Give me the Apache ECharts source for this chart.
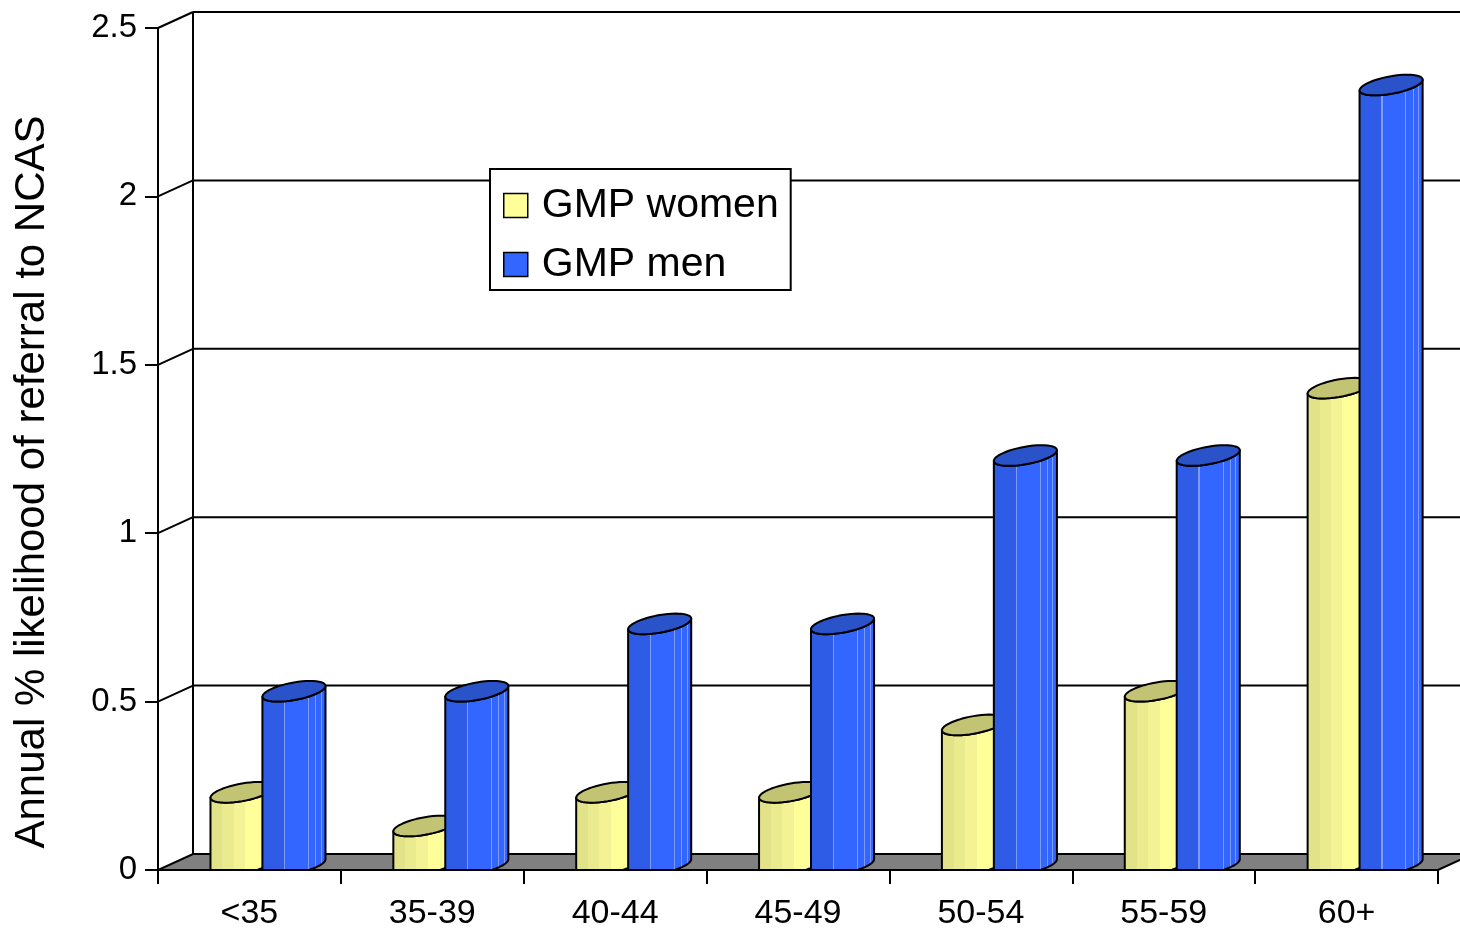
<!DOCTYPE html>
<html>
<head>
<meta charset="utf-8">
<script src="https://cdn.jsdelivr.net/npm/echarts@6/dist/echarts.min.js"></script>
<style>
  html, body { margin: 0; padding: 0; background: #fff; }
  #chart { width: 1460px; height: 929px; }
</style>
</head>
<body>
<div id="chart"></div>
<script>
// Age bands and annual referral likelihood (%) per group
const categories = ['<35', '35-39', '40-44', '45-49', '50-54', '55-59', '60+'];
const womenValues = [0.2, 0.1, 0.2, 0.2, 0.4, 0.5, 1.4];
const menValues = [0.5, 0.5, 0.7, 0.7, 1.2, 1.2, 2.3];
const yTicks = [0, 0.5, 1, 1.5, 2, 2.5];
const seriesNames = ['GMP women', 'GMP men'];
const yAxisTitle = 'Annual % likelihood of referral to NCAS';

const FONT = '"Liberation Sans", Arial, sans-serif';
// Oblique offset of the back wall relative to the front plane
const DEPTH_X = 35, DEPTH_Y = -16;

// Stepped horizontal shading for the cylinder bodies
function stepped(list) {
  const stops = [];
  for (let i = 0; i < list.length; i++) {
    const [from, to, color] = list[i];
    stops.push({ offset: from, color: color }, { offset: to, color: color });
  }
  return stops;
}
const womenShade = stepped([
  [0.00, 0.20, '#e2e288'],
  [0.20, 0.37, '#eaea8f'],
  [0.37, 0.55, '#f3f395'],
  [0.55, 1.00, '#ffff99']
]);
const menShade = stepped([
  [0.00, 0.35, '#2f5ce6'],
  [0.35, 0.37, '#7d9bff'],
  [0.37, 0.72, '#3366ff'],
  [0.72, 0.735, '#7d9bff'],
  [0.735, 0.83, '#3366ff'],
  [0.83, 0.845, '#7d9bff'],
  [0.845, 0.915, '#3366ff'],
  [0.915, 0.93, '#7d9bff'],
  [0.93, 1.00, '#3366ff']
]);

// Builds a renderItem drawing one oblique cylinder per category
function cylinderRenderer(offsetFrac, shade, capColor) {
  return function (params, api) {
    const band = api.size([1, 0])[0];
    const idx = api.value(0);
    const base = api.coord([idx, 0]);
    const top = api.coord([idx, api.value(1)]);
    const W = band * 0.345;
    const a = W / 2, s = W * 0.085, h = W * 0.14;
    const R = Math.hypot(s, h);
    const cx = base[0] + offsetFrac * band + a;
    const cyTop = top[1] - R;
    const cyBot = base[1] - s;
    const N = 48;
    const arc = function (cy, t0, t1, clampY) {
      const pts = [];
      for (let i = 0; i <= N; i++) {
        const t = t0 + (t1 - t0) * i / N;
        let y = cy - s * Math.cos(t) + h * Math.sin(t);
        if (clampY != null) y = Math.min(y, clampY);
        pts.push([cx + a * Math.cos(t), y]);
      }
      return pts;
    };
    const body = arc(cyBot, Math.PI, 0, base[1]).concat(arc(cyTop, 0, Math.PI));
    const cap = arc(cyTop, 0, Math.PI * 2);
    return {
      type: 'group',
      children: [
        {
          type: 'polygon',
          shape: { points: body },
          style: {
            fill: { type: 'linear', x: 0, y: 0, x2: 1, y2: 0, colorStops: shade },
            stroke: '#000', lineWidth: 2, lineJoin: 'round'
          }
        },
        {
          type: 'polygon',
          shape: { points: cap },
          style: { fill: capColor, stroke: '#000', lineWidth: 2, lineJoin: 'round' }
        }
      ]
    };
  };
}

// Back wall, side wall edges, gridlines and floor of the 3D frame
function renderFrame(params, api) {
  const cs = params.coordSys;
  const x0 = cs.x, x1 = cs.x + cs.width;
  const yBase = api.coord([0, 0])[1];
  const yTop = api.coord([0, yTicks[yTicks.length - 1]])[1];
  const line = { stroke: '#000', lineWidth: 2 };
  const children = [];
  children.push({
    type: 'polygon',
    shape: { points: [[x0, yBase], [x1, yBase], [x1 + DEPTH_X, yBase + DEPTH_Y], [x0 + DEPTH_X, yBase + DEPTH_Y]] },
    style: { fill: '#808080', stroke: '#000', lineWidth: 2 }
  });
  children.push({
    type: 'line',
    shape: { x1: x0 + DEPTH_X, y1: yTop + DEPTH_Y, x2: x0 + DEPTH_X, y2: yBase + DEPTH_Y },
    style: line
  });
  yTicks.forEach(function (v) {
    if (v === 0) return;
    const y = api.coord([0, v])[1];
    children.push({
      type: 'line',
      shape: { x1: x0 + DEPTH_X, y1: y + DEPTH_Y, x2: x1 + DEPTH_X, y2: y + DEPTH_Y },
      style: line
    });
    children.push({
      type: 'line',
      shape: { x1: x0, y1: y, x2: x0 + DEPTH_X, y2: y + DEPTH_Y },
      style: line
    });
  });
  return { type: 'group', children: children };
}

const chart = echarts.init(document.getElementById('chart'), null, { renderer: 'canvas' });

chart.setOption({
  animation: false,
  backgroundColor: '#fff',
  textStyle: { fontFamily: FONT, color: '#000' },
  grid: { left: 158, top: 28, width: 1280, height: 842, containLabel: false, outerBoundsMode: 'none' },
  legend: {
    data: seriesNames,
    orient: 'vertical',
    left: 490,
    top: 169,
    padding: [16, 12, 5, 13],
    itemGap: 18,
    itemWidth: 24,
    itemHeight: 24,
    icon: 'rect',
    backgroundColor: '#fff',
    borderColor: '#000',
    borderWidth: 2,
    borderRadius: 0,
    selectedMode: false,
    itemStyle: { borderColor: '#000', borderWidth: 1.5 },
    textStyle: { fontSize: 41, fontFamily: FONT, color: '#000', padding: [0, 0, 0, 9] }
  },
  xAxis: {
    type: 'category',
    data: categories,
    boundaryGap: true,
    axisLine: { show: true, lineStyle: { color: '#000', width: 2 } },
    axisTick: { show: true, length: 14, lineStyle: { color: '#000', width: 2 } },
    axisLabel: { fontSize: 34, fontFamily: FONT, color: '#000', margin: 27, interval: 0 },
    splitLine: { show: false }
  },
  yAxis: {
    type: 'value',
    min: 0,
    max: 2.5,
    interval: 0.5,
    name: yAxisTitle,
    nameLocation: 'middle',
    nameRotate: 90,
    nameGap: 105,
    nameTextStyle: { fontSize: 42, fontFamily: FONT, color: '#000', padding: [0, 66, 0, 0] },
    axisLine: { show: true, lineStyle: { color: '#000', width: 2 } },
    axisTick: { show: true, length: 13, lineStyle: { color: '#000', width: 2 } },
    axisLabel: { fontSize: 33, fontFamily: FONT, color: '#000', margin: 21 },
    splitLine: { show: false }
  },
  series: [
    {
      name: seriesNames[0],
      type: 'custom',
      z: 3,
      clip: false,
      itemStyle: { color: '#ffff99' },
      encode: { x: 0, y: 1 },
      data: womenValues.map(function (v, i) { return [i, v]; }),
      renderItem: cylinderRenderer(-0.213, womenShade, '#c3c374')
    },
    {
      name: seriesNames[1],
      type: 'custom',
      z: 3,
      clip: false,
      itemStyle: { color: '#3366ff' },
      encode: { x: 0, y: 1 },
      data: menValues.map(function (v, i) { return [i, v]; }),
      renderItem: cylinderRenderer(0.071, menShade, '#2a52c9')
    },
    {
      name: 'frame',
      type: 'custom',
      z: 1,
      silent: true,
      clip: false,
      encode: { x: 0, y: 1 },
      data: [[0, 0]],
      renderItem: renderFrame
    }
  ]
});
</script>
</body>
</html>
